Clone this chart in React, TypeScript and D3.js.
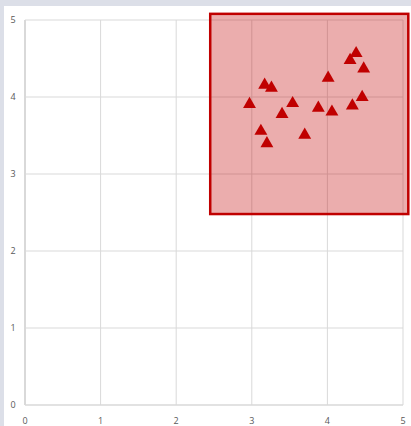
import React from "react";
import * as d3 from "d3";

const xTicks = [0, 1, 2, 3, 4, 5];
const yTicks = [0, 1, 2, 3, 4, 5];
const xValues = [2.97, 3.17, 3.26, 3.54, 3.40, 3.12, 3.20, 3.70, 3.88, 4.06, 4.01, 4.30, 4.38, 4.48, 4.33, 4.46];
const yValues = [3.92, 4.17, 4.13, 3.93, 3.79, 3.57, 3.41, 3.52, 3.87, 3.82, 4.26, 4.49, 4.58, 4.38, 3.90, 4.01];
const regionX = [2.45, 5.07];
const regionY = [2.48, 5.08];

export default function App() {
  const W = 411, H = 426;
  const x = d3.scaleLinear().domain([0, 5]).range([25, 403]);
  const y = d3.scaleLinear().domain([0, 5]).range([405, 20]);
  const tri = d3.symbol().type(d3.symbolTriangle).size(72)();
  const font = "'Open Sans', 'Liberation Sans', sans-serif";
  return (
    <svg width={W} height={H} style={{ position: "absolute", left: 0, top: 0 }}>
      <rect x={0} y={0} width={W} height={H} fill="#dcdfe8" />
      <rect x={4} y={6} width={W - 4} height={H - 6} fill="#ffffff" />
      {yTicks.filter((t) => t > 0).map((t) => (
        <line key={"gy" + t} x1={x(0)} x2={x(5)} y1={y(t)} y2={y(t)} stroke="#d9d9d9" strokeWidth={1} />
      ))}
      {xTicks.filter((t) => t > 0).map((t) => (
        <line key={"gx" + t} x1={x(t)} x2={x(t)} y1={y(0)} y2={y(5)} stroke="#d9d9d9" strokeWidth={1} />
      ))}
      <line x1={x(0)} x2={x(0)} y1={y(0)} y2={y(5)} stroke="#d9d9d9" strokeWidth={2} />
      <line x1={x(0)} x2={x(5)} y1={y(0)} y2={y(0)} stroke="#d9d9d9" strokeWidth={1.5} />
      {yTicks.map((t) => (
        <text key={"ty" + t} x={13} y={y(t)} dy="0.35em" textAnchor="middle" fontSize={9} fill="#595959" fontFamily={font}>{t}</text>
      ))}
      {xTicks.map((t) => (
        <text key={"tx" + t} x={x(t)} y={421} dy="0.35em" textAnchor="middle" fontSize={9} fill="#595959" fontFamily={font}>{t}</text>
      ))}
      <rect
        x={x(regionX[0])}
        y={y(regionY[1])}
        width={x(regionX[1]) - x(regionX[0])}
        height={y(regionY[0]) - y(regionY[1])}
        fill="#c00000"
        fillOpacity={0.32}
        stroke="#c00000"
        strokeWidth={2.5}
      />
      {xValues.map((v, i) => (
        <path key={"p" + i} d={tri || ""} transform={`translate(${x(v)},${y(yValues[i]) + 1})`} fill="#c00000" />
      ))}
    </svg>
  );
}
